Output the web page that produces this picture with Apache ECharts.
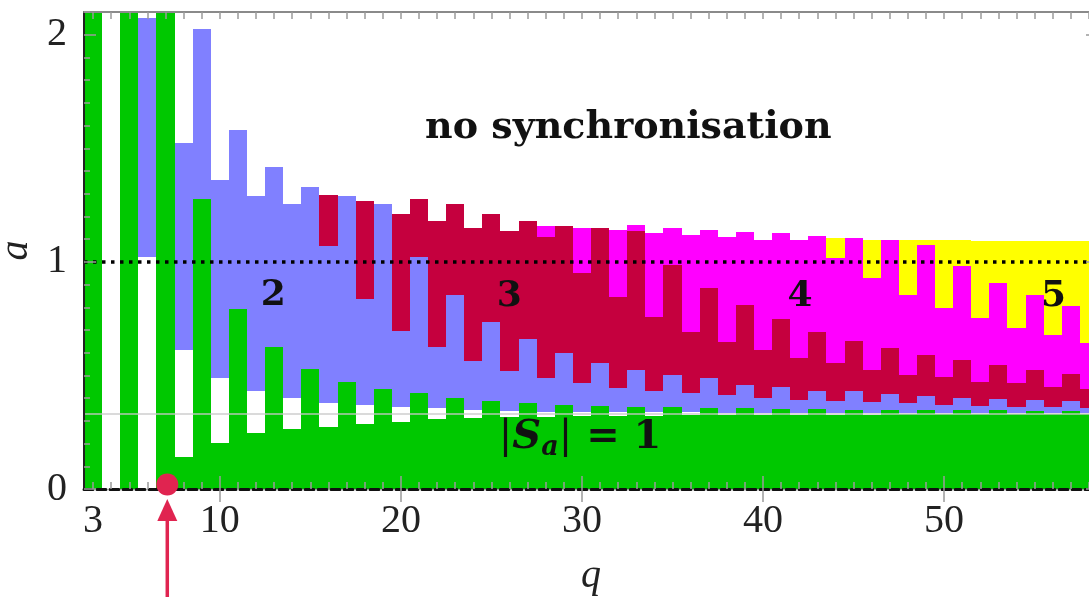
<!DOCTYPE html>
<html>
<head>
<meta charset="utf-8">
<script src="https://cdn.jsdelivr.net/npm/echarts@6/dist/echarts.min.js"></script>
<style>
    html, body { margin: 0; padding: 0; background: #ffffff; }
    #chart { width: 1089px; height: 597px; }
</style>
</head>
<body>
<div id="chart"></div>
<script>
// one column per q, boundaries of each coloured band in a
const qValues = [3, 4, 5, 6, 7, 8, 9, 10, 11, 12, 13, 14, 15, 16, 17, 18, 19, 20,
    21, 22, 23, 24, 25, 26, 27, 28, 29, 30, 31, 32, 33, 34, 35, 36, 37, 38, 39, 40,
    41, 42, 43, 44, 45, 46, 47, 48, 49, 50, 51, 52, 53, 54, 55, 56, 57, 58];

const greenTop = [2.1, 0, 2.1, 0, 2.1, 0.140, 1.276, 0.201, 0.791, 0.245, 0.623, 0.263, 0.527, 0.275, 0.473, 0.286, 0.442, 0.297,
    0.421, 0.306, 0.399, 0.311, 0.389, 0.316, 0.380, 0.319, 0.372, 0.321, 0.366, 0.322, 0.363, 0.323, 0.360, 0.324, 0.357, 0.325, 0.355, 0.326,
    0.353, 0.326, 0.351, 0.327, 0.350, 0.327, 0.349, 0.328, 0.348, 0.328, 0.347, 0.328, 0.346, 0.329, 0.345, 0.329, 0.344, 0.329];

const blueBottom = [2.1, 0, 2.1, 1.02, 2.1, 0.612, 1.276, 0.488, 0.791, 0.432, 0.623, 0.402, 0.527, 0.380, 0.473, 0.370, 0.442, 0.363,
    0.421, 0.355, 0.399, 0.348, 0.389, 0.344, 0.380, 0.341, 0.372, 0.340, 0.366, 0.338, 0.363, 0.337, 0.360, 0.337, 0.357, 0.336, 0.355, 0.336,
    0.353, 0.335, 0.351, 0.335, 0.350, 0.335, 0.349, 0.335, 0.348, 0.334, 0.347, 0.334, 0.346, 0.334, 0.345, 0.334, 0.344, 0.334];

const redBottom = [2.1, 0, 2.1, 2.075, 2.1, 1.523, 2.025, 1.361, 1.581, 1.288, 1.416, 1.254, 1.329, 1.068, 1.288, 0.836, 1.254, 0.697,
    1.021, 0.624, 0.852, 0.564, 0.734, 0.521, 0.661, 0.488, 0.598, 0.465, 0.554, 0.443, 0.524, 0.433, 0.502, 0.421, 0.488, 0.414, 0.458, 0.400,
    0.448, 0.392, 0.433, 0.388, 0.433, 0.384, 0.419, 0.377, 0.410, 0.370, 0.401, 0.365, 0.398, 0.363, 0.392, 0.360, 0.389, 0.355];

const magentaBottom = [2.1, 0, 2.1, 2.075, 2.1, 1.523, 2.025, 1.361, 1.581, 1.288, 1.416, 1.254, 1.329, 1.295, 1.288, 1.266, 1.254, 1.211,
    1.276, 1.182, 1.254, 1.151, 1.211, 1.138, 1.181, 1.109, 1.159, 0.950, 1.148, 0.844, 1.134, 0.759, 0.985, 0.693, 0.884, 0.645, 0.811, 0.612,
    0.747, 0.576, 0.693, 0.554, 0.653, 0.524, 0.620, 0.502, 0.590, 0.492, 0.568, 0.473, 0.546, 0.466, 0.524, 0.448, 0.507, 0.439];

const yellowBottom = [2.1, 0, 2.1, 2.075, 2.1, 1.523, 2.025, 1.361, 1.581, 1.288, 1.416, 1.254, 1.329, 1.295, 1.288, 1.266, 1.254, 1.211,
    1.276, 1.182, 1.254, 1.151, 1.211, 1.138, 1.181, 1.156, 1.159, 1.148, 1.148, 1.141, 1.163, 1.129, 1.151, 1.117, 1.141, 1.109, 1.130, 1.097,
    1.126, 1.097, 1.115, 1.016, 1.104, 0.928, 1.097, 0.855, 1.075, 0.796, 0.982, 0.752, 0.906, 0.708, 0.855, 0.678, 0.804, 0.642];

const regionTop = [2.1, 0, 2.1, 2.075, 2.1, 1.523, 2.025, 1.361, 1.581, 1.288, 1.416, 1.254, 1.329, 1.295, 1.288, 1.266, 1.254, 1.211,
    1.276, 1.182, 1.254, 1.151, 1.211, 1.138, 1.181, 1.156, 1.159, 1.148, 1.148, 1.141, 1.163, 1.129, 1.151, 1.117, 1.141, 1.109, 1.130, 1.097,
    1.126, 1.097, 1.115, 1.104, 1.104, 1.097, 1.097, 1.097, 1.097, 1.095, 1.095, 1.093, 1.093, 1.092, 1.092, 1.090, 1.090, 1.090];

const xTickLabels = [3, 10, 20, 30, 40, 50];
const xMajorTicks = [10, 20, 30, 40, 50];
const yTickLabels = [0, 1, 2];
const markedQ = 7.1;

const yMinorTicks = [];
for (let k = 0; k <= 21; k++) {
    yMinorTicks.push(k / 10);
}

const SERIF = "'Liberation Serif', 'DejaVu Serif', serif";
const BOLD_SERIF = "'DejaVu Serif', serif";

function makeBlocks(lower, upper) {
    return qValues
        .map((q, i) => [q, lower ? lower[i] : 0, upper[i]])
        .filter(d => d[2] > d[1]);
}

function renderBlock(params, api) {
    const q = api.value(0);
    const start = api.coord([q - 0.5, api.value(2)]);
    const end = api.coord([q + 0.5, api.value(1)]);

    // snap to whole pixels so neighbouring blocks leave no seams
    const x0 = Math.round(start[0]);
    const x1 = Math.round(end[0]);
    const y0 = Math.round(start[1]);
    const y1 = Math.round(end[1]);

    const shape = echarts.graphic.clipRectByRect(
        { x: x0, y: y0, width: x1 - x0, height: y1 - y0 },
        {
            x: params.coordSys.x,
            y: params.coordSys.y,
            width: params.coordSys.width,
            height: params.coordSys.height
        }
    );

    return shape && {
        type: "rect",
        shape: shape,
        style: { fill: api.visual("color") }
    };
}

function blockSeries(name, color, lower, upper) {
    return {
        name: name,
        type: "custom",
        renderItem: renderBlock,
        itemStyle: { color: color },
        encode: { x: 0, y: [1, 2] },
        data: makeBlocks(lower, upper),
        silent: true,
        z: 2
    };
}

function tickAxis(position, ticks, length, extra) {
    return Object.assign({
        type: "value",
        position: position,
        min: 2.5,
        max: 58.5,
        axisLine: { show: false },
        axisTick: {
            show: true,
            inside: true,
            length: length,
            customValues: ticks,
            lineStyle: { color: "#9a9a9a", width: 1.5 }
        },
        axisLabel: { show: false },
        splitLine: { show: false },
        z: 10
    }, extra || {});
}

function tickYAxis(position, ticks, length, extra) {
    return Object.assign({
        type: "value",
        position: position,
        min: 0,
        max: 2.1,
        axisLine: { show: false },
        axisTick: {
            show: true,
            inside: true,
            length: length,
            customValues: ticks,
            lineStyle: { color: "#9a9a9a", width: 1.5 }
        },
        axisLabel: { show: false },
        splitLine: { show: false },
        z: 10
    }, extra || {});
}

const chart = echarts.init(document.getElementById("chart"));

chart.setOption({
    animation: false,
    backgroundColor: "#ffffff",
    grid: {
        left: 84,
        top: 12,
        width: 1014,
        height: 477,
        containLabel: false,
        outerBoundsMode: "none"
    },
    xAxis: [
        tickAxis("bottom", qValues, 7, {
            axisLine: {
                show: true,
                onZero: false,
                lineStyle: { color: "#111111", width: 3, type: [9, 4] }
            },
            axisLabel: {
                show: true,
                customValues: xTickLabels,
                fontFamily: SERIF,
                fontSize: 40,
                color: "#222222",
                margin: 12
            },
            name: "q",
            nameLocation: "middle",
            nameGap: 67,
            nameTextStyle: {
                fontFamily: SERIF,
                fontStyle: "italic",
                fontSize: 40,
                color: "#222222"
            }
        }),
        tickAxis("bottom", xMajorTicks, 13),
        tickAxis("top", qValues, 7, {
            axisLine: {
                show: true,
                onZero: false,
                lineStyle: { color: "#8a8a8a", width: 2 }
            }
        }),
        tickAxis("top", xMajorTicks, 13)
    ],
    yAxis: [
        tickYAxis("left", yMinorTicks, 6, {
            axisLine: {
                show: true,
                onZero: false,
                lineStyle: { color: "#222222", width: 2 }
            },
            axisLabel: {
                show: true,
                customValues: yTickLabels,
                fontFamily: SERIF,
                fontSize: 40,
                color: "#222222",
                margin: 17,
                padding: [10, 0, 0, 0]
            },
            name: "a",
            nameLocation: "middle",
            nameRotate: 90,
            nameGap: 46,
            nameTextStyle: {
                fontFamily: SERIF,
                fontStyle: "italic",
                fontSize: 40,
                color: "#222222"
            }
        }),
        tickYAxis("left", yTickLabels, 12),
        tickYAxis("right", yMinorTicks, 6),
        tickYAxis("right", yTickLabels, 12)
    ],
    series: [
        blockSeries("|S_a| = 1", "#00c800", null, greenTop),
        blockSeries("2", "#8080ff", blueBottom, redBottom),
        blockSeries("3", "#c5003e", redBottom, magentaBottom),
        blockSeries("4", "#ff00ff", magentaBottom, yellowBottom),
        blockSeries("5", "#ffff00", yellowBottom, regionTop),
        {
            type: "line",
            data: [],
            z: 5,
            markLine: {
                silent: true,
                symbol: "none",
                label: { show: false },
                data: [
                    {
                        yAxis: 1 / 3,
                        lineStyle: { color: "rgba(200,200,200,0.9)", width: 1.5, type: "solid" }
                    },
                    {
                        yAxis: 1,
                        lineStyle: { color: "#000000", width: 3.5, type: [3.5, 5.5] }
                    }
                ]
            }
        },
        {
            type: "scatter",
            data: [[markedQ, 0.02]],
            symbolSize: 22,
            clip: false,
            itemStyle: { color: "#e02450", opacity: 1 },
            silent: true,
            z: 20
        }
    ]
});

// annotations placed through the chart's own scales
function toPixel(q, a) {
    return chart.convertToPixel({ xAxisIndex: 0, yAxisIndex: 0 }, [q, a]);
}

function regionLabel(text, q, a, size) {
    const p = toPixel(q, a);
    return {
        type: "text",
        x: p[0],
        y: p[1],
        z: 30,
        style: {
            text: text,
            fontFamily: BOLD_SERIF,
            fontWeight: "bold",
            fontSize: size,
            fill: "#111111",
            align: "center",
            verticalAlign: "middle"
        }
    };
}

const sLabel = toPixel(29.9, 0.225);
const dot = toPixel(markedQ, 0.02);

chart.setOption({
    graphic: [
        regionLabel("no synchronisation", 32.56, 1.59, 38),
        regionLabel("2", 12.95, 0.85, 36),
        regionLabel("3", 25.98, 0.845, 36),
        regionLabel("4", 42.05, 0.845, 36),
        regionLabel("5", 56.05, 0.845, 36),
        {
            type: "text",
            x: sLabel[0],
            y: sLabel[1],
            z: 30,
            style: {
                text: "{n||}{s|S}{sub|a}{n||}{b| = 1}",
                align: "center",
                verticalAlign: "middle",
                rich: {
                    n: { fontFamily: BOLD_SERIF, fontSize: 40, lineHeight: 48, fill: "#111111" },
                    s: { fontFamily: BOLD_SERIF, fontStyle: "italic", fontWeight: "bold", fontSize: 40, lineHeight: 48, fill: "#111111" },
                    sub: { fontFamily: BOLD_SERIF, fontStyle: "italic", fontWeight: "bold", fontSize: 27, lineHeight: 27, verticalAlign: "bottom", fill: "#111111" },
                    b: { fontFamily: BOLD_SERIF, fontWeight: "bold", fontSize: 40, lineHeight: 48, fill: "#111111" }
                }
            }
        },
        {
            type: "line",
            z: 25,
            shape: { x1: dot[0], y1: 597, x2: dot[0], y2: 518 },
            style: { stroke: "#e02450", lineWidth: 3.5 }
        },
        {
            type: "polygon",
            z: 25,
            shape: { points: [[dot[0] - 10, 521], [dot[0] + 10, 521], [dot[0], 499]] },
            style: { fill: "#e02450" }
        }
    ]
});
</script>
</body>
</html>
